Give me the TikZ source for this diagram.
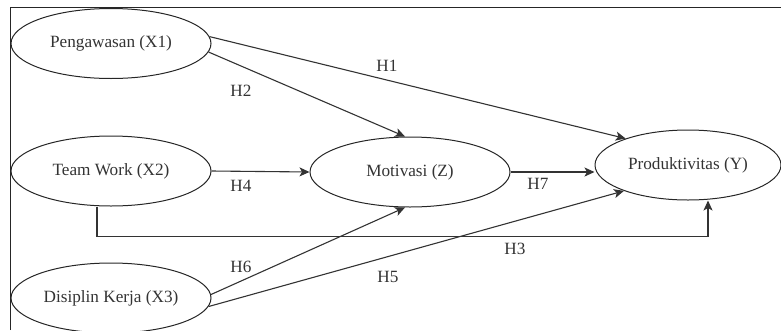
\documentclass[tikz,border=0pt]{standalone}
\usepackage{fontspec}
\setmainfont{Liberation Serif}
\usetikzlibrary{shapes.geometric,arrows.meta,calc}
\begin{document}
\begin{tikzpicture}[x=1pt,y=-1pt,
  var/.style={ellipse,draw=black!85,line width=1pt,minimum width=200pt,minimum height=70pt,inner sep=0pt,
    font=\fontsize{17.2}{19}\selectfont,text=black!80},
  conn/.style={draw=black!80,line width=1.1pt,-{Stealth[length=10pt,width=9pt,inset=2.5pt]}},
  hlab/.style={font=\fontsize{17.2}{19}\selectfont,text=black!80,inner sep=0pt}]
\useasboundingbox (0,0) rectangle (781,330);
\draw[black!85,line width=1pt] (10,330) -- (10,7) -- (781,7);
\node[var] (P) at (111,43.5) {Pengawasan (X1)};
\node[var] (T) at (111,171) {Team Work (X2)};
\node[var] (D) at (111,298) {Disiplin Kerja (X3)};
\node[var] (M) at (410,172) {Motivasi (Z)};
\node[var,minimum width=186pt] (Y) at (688,165) {Produktivitas (Y)};
\draw[conn] (P.4) -- (Y.157);
\draw[conn] (P.-5) -- (M.98);
\draw[conn] (T.east) -- (M.west);
\draw[conn] (M.east) -- (M.east -| Y.west);
\draw[conn] ([xshift=-14pt]T.south) -- ++(0,30) -| ([xshift=20pt]Y.south);
\draw[conn] (D.2) -- (M.262);
\draw[conn] (D.-5) -- (Y.202);
\node[hlab] (h1) at (387,66) {H1};
\node[hlab] (h2) at (241,91) {H2};
\node[hlab] (h4) at (241,186) {H4};
\node[hlab] (h7) at (538,184) {H7};
\node[hlab] (h3) at (515,249) {H3};
\node[hlab] (h6) at (241,267) {H6};
\node[hlab] (h5) at (388,277) {H5};
\end{tikzpicture}
\end{document}
